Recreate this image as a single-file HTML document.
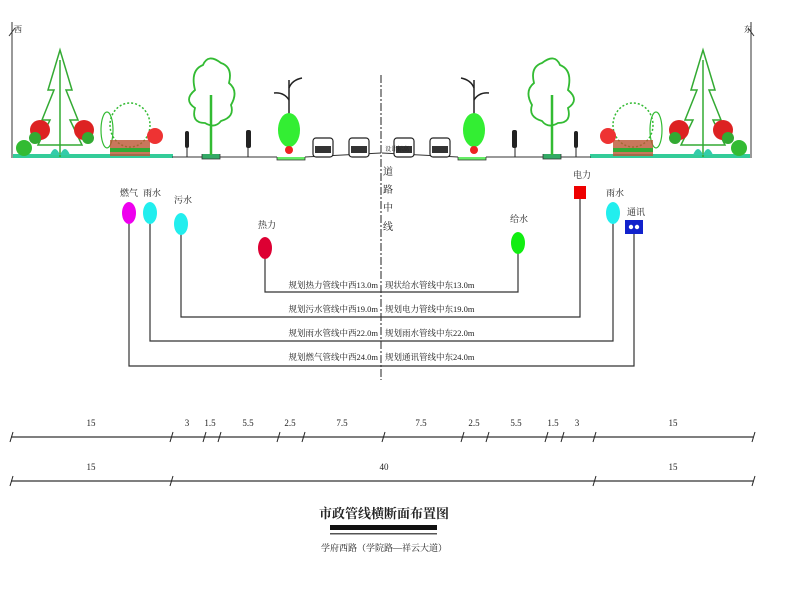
<!DOCTYPE html>
<html><head><meta charset="utf-8"><style>
html,body{margin:0;padding:0;background:#fff;}
svg{display:block;}
text{font-family:"Liberation Serif","Noto Serif CJK SC","Noto Sans CJK SC",serif;fill:#222;}
</style></head><body>
<svg width="800" height="600" viewBox="0 0 800 600" xmlns="http://www.w3.org/2000/svg">
<defs>
<g id="half">
  <!-- wall -->
  <line x1="12" y1="22" x2="12" y2="158" stroke="#333" stroke-width="1"/>
  <line x1="9" y1="36" x2="15" y2="28" stroke="#333"/>
  <!-- ground strip -->
  <rect x="13" y="154" width="160" height="4" fill="#3c9"/>
  <line x1="172" y1="157" x2="202" y2="157" stroke="#333"/>
  <path d="M202 154 V159 H220 V154" fill="#3a6" stroke="#333" stroke-width="0.8"/>
  <line x1="220" y1="157" x2="277" y2="157" stroke="#333"/>
  <path d="M277 157 V160 H305 V157" fill="#6e6" stroke="#333" stroke-width="0.8"/>
  <line x1="305" y1="157" x2="381" y2="153" stroke="#333"/>
  <!-- pine -->
  <path d="M60 50 L48 90 L54 90 L42 120 L50 120 L38 145 L82 145 L70 120 L78 120 L66 90 L72 90 Z" fill="none" stroke="#3a3" stroke-width="1.5"/>
  <line x1="60" y1="60" x2="60" y2="157" stroke="#3a3" stroke-width="1.5"/>
  <!-- red shrubs -->
  <circle cx="40" cy="130" r="10" fill="#d22"/><circle cx="35" cy="138" r="6" fill="#3a3"/>
  <circle cx="84" cy="130" r="10" fill="#d22"/><circle cx="88" cy="138" r="6" fill="#3a3"/>
  <circle cx="24" cy="148" r="8" fill="#3b3"/>
  <path d="M50 155 q5 -12 10 0 q5 -12 10 0" fill="#3ca" />
  <!-- bush group -->
  <ellipse cx="130" cy="125" rx="20" ry="22" fill="none" stroke="#3b3" stroke-dasharray="2,2" stroke-width="1.5"/>
  <ellipse cx="107" cy="130" rx="6" ry="18" fill="none" stroke="#3b3" stroke-width="1.2"/>
  <rect x="110" y="140" width="40" height="16" fill="#b53" opacity="0.8"/>
  <path d="M110 150 h40" stroke="#3a3" stroke-width="4"/>
  <circle cx="155" cy="136" r="8" fill="#e33"/>
  <!-- deciduous tree -->
  <path d="M195 90 q-5 -20 8 -25 q5 -12 18 -2 q12 4 8 20 q10 8 2 22 q4 12 -10 16 q-6 8 -16 2 q-14 0 -10 -15 q-12 -8 0 -18z" fill="none" stroke="#3b3" stroke-width="1.8"/>
  <line x1="211" y1="95" x2="211" y2="155" stroke="#3b3" stroke-width="2.5"/>
  <!-- pedestrians -->
  <rect x="185" y="131" width="4" height="17" rx="2" fill="#222"/><line x1="187" y1="148" x2="187" y2="157" stroke="#222"/>
  <rect x="246" y="130" width="5" height="18" rx="2" fill="#222"/><line x1="248" y1="148" x2="248" y2="157" stroke="#222"/>
  <!-- lamp -->
  <line x1="289" y1="80" x2="289" y2="150" stroke="#222" stroke-width="1.5"/>
  <path d="M289 88 q3 -8 13 -10" fill="none" stroke="#222" stroke-width="1.5"/>
  <path d="M289 100 q-5 -8 -15 -7" fill="none" stroke="#222" stroke-width="1.5"/>
  <ellipse cx="289" cy="130" rx="11" ry="17" fill="#3e3"/>
  <circle cx="289" cy="150" r="4" fill="#e22"/>
  <!-- cars -->
  <g fill="#fff" stroke="#222" stroke-width="1.2">
   <rect x="313" y="138" width="20" height="19" rx="3"/><rect x="349" y="138" width="20" height="19" rx="3"/>
  </g>
  <g fill="#333"><rect x="315" y="146" width="16" height="7"/><rect x="351" y="146" width="16" height="7"/></g>
</g>
</defs>
<use href="#half"/>
<use href="#half" transform="translate(763,0) scale(-1,1)"/>
<text x="14" y="32" font-size="8">西</text>
<text x="744" y="32" font-size="8">东</text>
<text x="385" y="151" font-size="6">设计标高</text>
<!-- centerline -->
<line x1="381" y1="75" x2="381" y2="380" stroke="#222" stroke-width="1" stroke-dasharray="8,2,2,2"/>
<text font-size="10" x="383" y="175">道</text><text font-size="10" x="383" y="193">路</text><text font-size="10" x="383" y="211">中</text><text font-size="10" x="383" y="230">线</text>
<!-- pipes -->
<g stroke="#333" stroke-width="1.2" fill="none">
 <path d="M265 258 V292 H518 V253"/>
 <path d="M181 234 V317 H580 V199"/>
 <path d="M150 223 V341 H613 V223"/>
 <path d="M129 223 V366 H634 V234"/>
</g>
<ellipse cx="129" cy="213" rx="7" ry="11" fill="#e0e"/>
<ellipse cx="150" cy="213" rx="7" ry="11" fill="#2ee"/>
<ellipse cx="181" cy="224" rx="7" ry="11" fill="#2ee"/>
<ellipse cx="265" cy="248" rx="7" ry="11" fill="#d03"/>
<ellipse cx="518" cy="243" rx="7" ry="11" fill="#1e1"/>
<rect x="574" y="186" width="12" height="13" fill="#e00"/>
<ellipse cx="613" cy="213" rx="7" ry="11" fill="#2ee"/>
<rect x="625" y="220" width="18" height="14" fill="#12c"/><circle cx="631" cy="227" r="2.2" fill="#fff"/><circle cx="637" cy="227" r="2.2" fill="#fff"/>
<g font-size="9">
<text x="120" y="196">燃气</text><text x="143" y="196">雨水</text><text x="174" y="203">污水</text>
<text x="258" y="228">热力</text><text x="510" y="222">给水</text><text x="573" y="178">电力</text>
<text x="606" y="196">雨水</text><text x="627" y="215">通讯</text>
</g>
<g font-size="8.5">
<text x="378" y="288" text-anchor="end">规划热力管线中西13.0m</text><text x="385" y="288">现状给水管线中东13.0m</text>
<text x="378" y="312" text-anchor="end">规划污水管线中西19.0m</text><text x="385" y="312">规划电力管线中东19.0m</text>
<text x="378" y="336" text-anchor="end">规划雨水管线中西22.0m</text><text x="385" y="336">规划雨水管线中东22.0m</text>
<text x="378" y="360" text-anchor="end">规划燃气管线中西24.0m</text><text x="385" y="360">规划通讯管线中东24.0m</text>
</g>
<!-- dimensions -->
<g stroke="#333" stroke-width="1.3">
 <line x1="11" y1="437" x2="753" y2="437"/>
 <line x1="11" y1="481" x2="753" y2="481"/>
</g>
<g stroke="#222" stroke-width="1">
 <path d="M10 442 l3 -10 M170 442 l3 -10 M203 442 l3 -10 M218 442 l3 -10 M277 442 l3 -10 M302 442 l3 -10 M382 442 l3 -10 M461 442 l3 -10 M486 442 l3 -10 M545 442 l3 -10 M561 442 l3 -10 M593 442 l3 -10 M752 442 l3 -10"/>
 <path d="M10 486 l3 -10 M170 486 l3 -10 M593 486 l3 -10 M752 486 l3 -10"/>
</g>
<g font-size="9" text-anchor="middle">
<text x="91" y="426">15</text><text x="187" y="426">3</text><text x="210" y="426">1.5</text><text x="248" y="426">5.5</text><text x="290" y="426">2.5</text><text x="342" y="426">7.5</text><text x="421" y="426">7.5</text><text x="474" y="426">2.5</text><text x="516" y="426">5.5</text><text x="553" y="426">1.5</text><text x="577" y="426">3</text><text x="673" y="426">15</text>
<text x="91" y="470">15</text><text x="384" y="470">40</text><text x="673" y="470">15</text>
</g>
<text x="384" y="518" font-size="13" text-anchor="middle" font-weight="bold">市政管线横断面布置图</text>
<rect x="330" y="525" width="107" height="5" fill="#111"/>
<rect x="330" y="533" width="107" height="1.5" fill="#555"/>
<text x="384" y="551" font-size="9" text-anchor="middle">学府西路（学院路—祥云大道）</text>
</svg>
</body></html>
